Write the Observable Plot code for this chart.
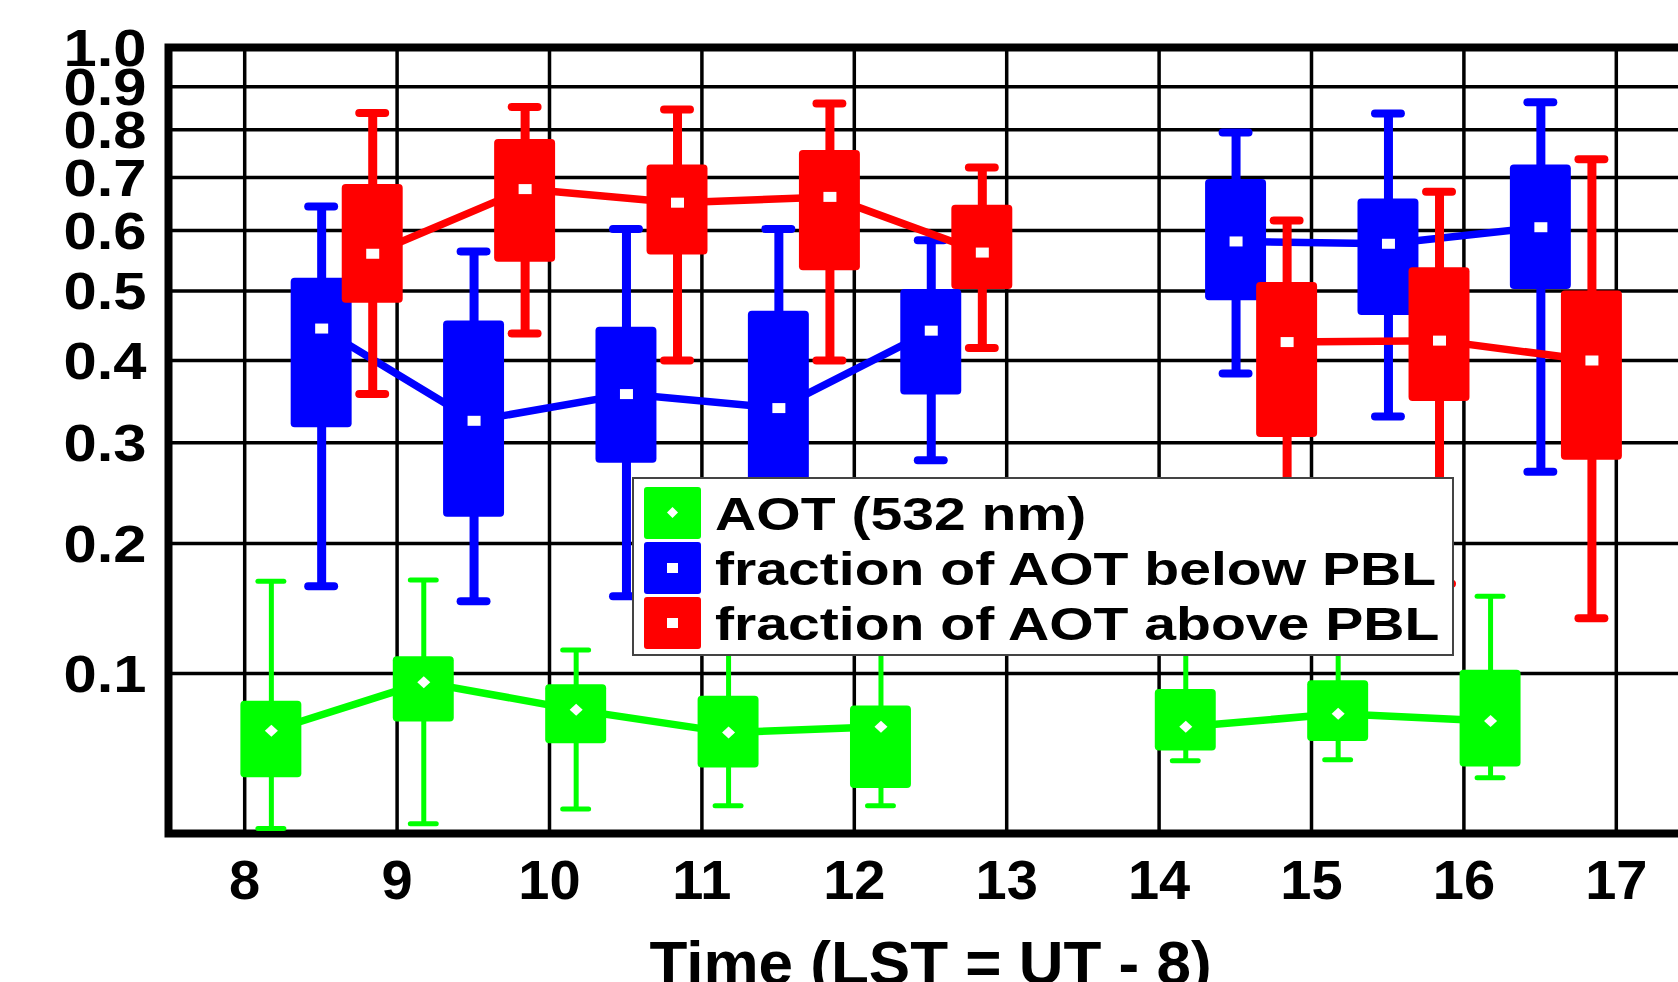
<!DOCTYPE html>
<html>
<head>
<meta charset="utf-8">
<script src="https://cdn.jsdelivr.net/npm/d3@7"></script>
<script src="https://cdn.jsdelivr.net/npm/@observablehq/plot@0.6"></script>
<style>
  html, body { margin: 0; padding: 0; background: #fff; overflow: hidden; }
  #wrap { position: relative; width: 1678px; height: 982px; overflow: hidden; }
  #chart { width: 1702px; }
  #chart svg { display: block; max-width: none !important; width: 1702px; height: 982px; font-family: "Liberation Sans", Arial, sans-serif; }
  #legend {
    position: absolute; left: 632px; top: 477px; width: 818px; height: 175px;
    background: #fff; border: 2px solid #444; box-sizing: content-box;
    font-family: "Liberation Sans", Arial, sans-serif; font-weight: bold; font-size: 47px; color: #000;
  }
  .row { position: absolute; left: 0; height: 52px; width: 100%; }
  .sw { position: absolute; left: 10px; top: 0; width: 57px; height: 52px; border-radius: 3px; }
  .mk { position: absolute; left: 23px; top: 21px; width: 11px; height: 10px; background: #fff; }
  .dm { position: absolute; left: 23px; top: 20px; width: 11px; height: 11px; background: #fff;
        clip-path: polygon(50% 0, 100% 50%, 50% 100%, 0 50%); }
  .lab { position: absolute; left: 81px; top: 50%; transform-origin: left center;
         transform: translateY(-50%) scaleX(1.215); white-space: nowrap; line-height: 1; }
</style>
</head>
<body>
<div id="wrap">
  <div id="chart"></div>
  <div id="legend"></div>
</div>
<script>
// ---------------- data ----------------
const hours = [8, 9, 10, 11, 12, 14, 15, 16];
const xTicks = [8, 9, 10, 11, 12, 13, 14, 15, 16, 17];
const yTicks = [0.1, 0.2, 0.3, 0.4, 0.5, 0.6, 0.7, 0.8, 0.9, 1.0];
const xLabel = "Time (LST = UT - 8)";
const seriesNames = ["AOT (532 nm)", "fraction of AOT below PBL", "fraction of AOT above PBL"];
const seriesColors = ["#00ff00", "#0000ff", "#ff0000"];

// AOT (532 nm)
const aotLo  = [0.0128, 0.0151, 0.0222, 0.0238, 0.0238, 0.0473, 0.0478, 0.0382];
const aotQ1  = [0.0382, 0.0695, 0.0568, 0.0434, 0.0326, 0.0527, 0.0581, 0.0439];
const aotMed = [0.0643, 0.0942, 0.0768, 0.0632, 0.0666, 0.0666, 0.0744, 0.0701];
const aotQ3  = [0.0822, 0.1114, 0.0927, 0.0852, 0.0792, 0.0895, 0.0952, 0.1022];
const aotHi  = [0.168, 0.169, 0.116, 0.140, 0.150, 0.130, 0.130, 0.156];

// fraction of AOT below PBL
const belowLo  = [0.164, 0.152, 0.156, 0.150, 0.281, 0.383, 0.330, 0.269];
const belowQ1  = [0.317, 0.224, 0.278, 0.240, 0.356, 0.485, 0.463, 0.502];
const belowMed = [0.444, 0.325, 0.357, 0.340, 0.441, 0.581, 0.577, 0.606];
const belowQ3  = [0.520, 0.455, 0.446, 0.469, 0.502, 0.696, 0.658, 0.725];
const belowHi  = [0.644, 0.564, 0.603, 0.603, 0.583, 0.794, 0.837, 0.863];

// fraction of AOT above PBL
const aboveLo  = [0.357, 0.437, 0.400, 0.400, 0.417, 0.200, 0.166, 0.139];
const aboveQ1  = [0.481, 0.546, 0.558, 0.532, 0.502, 0.306, 0.348, 0.281];
const aboveMed = [0.560, 0.677, 0.651, 0.662, 0.562, 0.425, 0.427, 0.400];
const aboveQ3  = [0.686, 0.779, 0.725, 0.755, 0.646, 0.513, 0.537, 0.500];
const aboveHi  = [0.838, 0.852, 0.846, 0.860, 0.720, 0.618, 0.672, 0.737];

// ---------------- build ----------------
const offsets = [0.175, 0.505, 0.84];
const stats = [
  [aotLo, aotQ1, aotMed, aotQ3, aotHi],
  [belowLo, belowQ1, belowMed, belowQ3, belowHi],
  [aboveLo, aboveQ1, aboveMed, aboveQ3, aboveHi]
];
const whiskerW = [5, 9, 9];
const capW = [5, 8, 8];
const capHalf = [0.085, 0.085, 0.085];

const rectSymbol = { draw(ctx) { ctx.rect(-6.5, -5, 13, 10); } };
const diamondSymbol = { draw(ctx) { ctx.moveTo(0, -6); ctx.lineTo(6.5, 0); ctx.lineTo(0, 6); ctx.lineTo(-6.5, 0); ctx.closePath(); } };

const seriesMarks = stats.flatMap(([lo, q1, med, q3, hi], s) => {
  const rows = hours.map((h, i) => ({
    x: h + offsets[s], lo: lo[i], q1: q1[i], med: med[i], q3: q3[i], hi: hi[i], seg: h < 13 ? "am" : "pm"
  }));
  const color = seriesColors[s];
  return [
    Plot.ruleX(rows, {x: "x", y1: "lo", y2: "hi", stroke: color, strokeWidth: whiskerW[s]}),
    Plot.ruleY(rows, {y: "hi", x1: d => d.x - capHalf[s], x2: d => d.x + capHalf[s], stroke: color, strokeWidth: capW[s], strokeLinecap: "round"}),
    Plot.ruleY(rows, {y: "lo", x1: d => d.x - capHalf[s], x2: d => d.x + capHalf[s], stroke: color, strokeWidth: capW[s], strokeLinecap: "round"}),
    Plot.rect(rows, {x1: d => d.x - 0.2, x2: d => d.x + 0.2, y1: "q1", y2: "q3", fill: color, rx: 4}),
    Plot.line(rows, {x: "x", y: "med", z: "seg", stroke: color, strokeWidth: 7.5}),
    Plot.dot(rows, {x: "x", y: "med", r: 5, fill: "white", stroke: "none", symbol: s === 0 ? diamondSymbol : rectSymbol})
  ];
});

const chart = Plot.plot({
  width: 1702,
  height: 982,
  marginLeft: 168,
  marginRight: 10,
  marginTop: 47,
  marginBottom: 149,
  style: {background: "white", fontFamily: "'Liberation Sans', Arial, sans-serif", overflow: "visible", maxWidth: "none"},
  x: {domain: [7.5, 17.5], axis: null},
  y: {type: "symlog", constant: 0.2, domain: [0.0105, 1.0], axis: null},
  marks: [
    Plot.ruleX(xTicks, {x: d => d, stroke: "black", strokeWidth: 3.5}),
    Plot.ruleY(yTicks, {y: d => d, stroke: "black", strokeWidth: 3.5}),
    Plot.frame({stroke: "black", strokeWidth: 8}),
    ...seriesMarks,
    Plot.text(xTicks, {x: d => d, text: d => String(d), frameAnchor: "bottom", lineAnchor: "middle", dy: 48, fontSize: 56, fontWeight: "bold", fill: "black"}),
    Plot.text(yTicks, {y: d => d, text: d => d.toFixed(1), frameAnchor: "left", lineAnchor: "middle", textAnchor: "end", dx: -22, dy: 2, fontSize: 51, fontWeight: "bold", fill: "black"}),
    Plot.text([xLabel], {text: d => d, frameAnchor: "bottom", lineAnchor: "middle", dy: 131, fontSize: 62, fontWeight: "bold", fill: "black"})
  ]
});
document.getElementById("chart").appendChild(chart);

// widen the y tick labels horizontally like the reference
chart.querySelectorAll("text").forEach(t => {
  if (!/^\d\.\d$/.test(t.textContent.trim())) return;
  t.setAttribute("textLength", "83");
  t.setAttribute("lengthAdjust", "spacingAndGlyphs");
});

// legend
const legend = document.getElementById("legend");
const tops = [8, 63, 118];
seriesNames.forEach((name, i) => {
  const row = document.createElement("div");
  row.className = "row";
  row.style.top = tops[i] + "px";
  const sw = document.createElement("div");
  sw.className = "sw";
  sw.style.background = seriesColors[i];
  const mk = document.createElement("div");
  mk.className = i === 0 ? "dm" : "mk";
  sw.appendChild(mk);
  const lab = document.createElement("div");
  lab.className = "lab";
  lab.textContent = name;
  row.appendChild(sw);
  row.appendChild(lab);
  legend.appendChild(row);
});
</script>
</body>
</html>
